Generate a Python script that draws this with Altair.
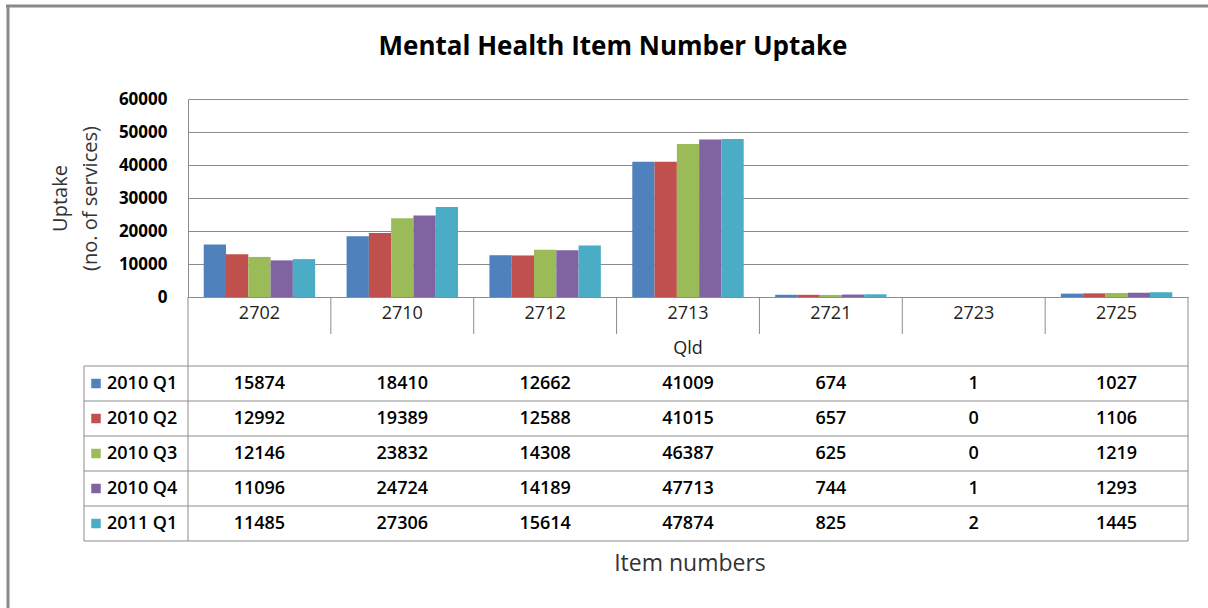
import altair as alt
import pandas as pd

# Quarterly service counts per MBS mental health item (Queensland)
items = ["2702", "2710", "2712", "2713", "2721", "2723", "2725"]
series = ["2010 Q1", "2010 Q2", "2010 Q3", "2010 Q4", "2011 Q1"]
q1_2010 = [15874, 18410, 12662, 41009, 674, 1, 1027]
q2_2010 = [12992, 19389, 12588, 41015, 657, 0, 1106]
q3_2010 = [12146, 23832, 14308, 46387, 625, 0, 1219]
q4_2010 = [11096, 24724, 14189, 47713, 744, 1, 1293]
q1_2011 = [11485, 27306, 15614, 47874, 825, 2, 1445]
y_ticks = [0, 10000, 20000, 30000, 40000, 50000, 60000]
colors = ["#4F81BD", "#C0504D", "#9BBB59", "#8064A2", "#4BACC6"]

series_values = [q1_2010, q2_2010, q3_2010, q4_2010, q1_2011]
df = pd.DataFrame(
    [
        {"item": it, "series": s, "uptake": v}
        for s, vals in zip(series, series_values)
        for it, v in zip(items, vals)
    ]
)

# Layout (pixels, relative to the plot area's top-left corner)
W = 1000
PLOT_H = 198
CAT_SEP_END = 235
ROWS_TOP = 267
ROW_H = 35
H = ROWS_TOP + ROW_H * len(series)
LEGEND_LEFT = -104
GRID = "#8c8c8c"
FONT = "Open Sans"

x_band = alt.X(
    "item:N",
    sort=items,
    scale=alt.Scale(domain=items, paddingInner=0.22, paddingOuter=0.11),
    axis=None,
)
row_band = alt.Y(
    "series:N",
    sort=series,
    scale=alt.Scale(domain=series, range=[ROWS_TOP, H], paddingInner=0, paddingOuter=0),
    axis=None,
)
color_enc = alt.Color("series:N", scale=alt.Scale(domain=series, range=colors), legend=None)

bars = alt.Chart(df).mark_bar().encode(
    x=x_band,
    xOffset=alt.XOffset(
        "series:N", sort=series, scale=alt.Scale(domain=series, paddingInner=0, paddingOuter=0)
    ),
    y=alt.Y(
        "uptake:Q",
        scale=alt.Scale(domain=[0, 60000], range=[PLOT_H, 0], nice=False),
        axis=alt.Axis(
            values=y_ticks,
            format="d",
            title=["Uptake", "(no. of services)"],
            titleAngle=-90,
            titleX=-138,
            titleY=PLOT_H / 2,
            titleAlign="center",
            titleBaseline="top",
            titleFontSize=20,
            titleFontWeight="normal",
            titleLineHeight=30,
            titleColor="#333333",
            labelFontSize=17,
            labelFontWeight="bold",
            labelColor="#000000",
            labelPadding=21,
            ticks=False,
            domain=True,
            domainColor=GRID,
            grid=True,
            gridColor=GRID,
        ),
    ),
    color=color_enc,
)

# Table grid lines
step = W / len(items)
lines = []
for i in range(len(series) + 1):
    y = ROWS_TOP + ROW_H * i
    lines.append({"x": LEGEND_LEFT, "x2": W, "y": y, "y2": y})
lines.append({"x": 0, "x2": 0, "y": PLOT_H, "y2": H})
lines.append({"x": W, "x2": W, "y": PLOT_H, "y2": H})
lines.append({"x": LEGEND_LEFT, "x2": LEGEND_LEFT, "y": ROWS_TOP, "y2": H})
for k in range(1, len(items)):
    lines.append({"x": step * k, "x2": step * k, "y": PLOT_H, "y2": CAT_SEP_END})
table_lines = alt.Chart(pd.DataFrame(lines)).mark_rule(color=GRID, strokeWidth=1).encode(
    x=alt.X("x:Q", scale=None),
    x2="x2:Q",
    y=alt.Y("y:Q", scale=None),
    y2="y2:Q",
)

# Outer frame (left and top edges)
frame = pd.DataFrame(
    [
        {"x": -180, "x2": -180, "y": -93, "y2": 520},
        {"x": -182, "x2": 1030, "y": -93, "y2": -93},
    ]
)
frame_lines = alt.Chart(frame).mark_rule(color="#8a8a8a", strokeWidth=3).encode(
    x=alt.X("x:Q", scale=None),
    x2="x2:Q",
    y=alt.Y("y:Q", scale=None),
    y2="y2:Q",
)

cat_labels = alt.Chart(pd.DataFrame({"item": items})).mark_text(
    fontSize=18, color="#222222", baseline="middle"
).encode(x=x_band, y=alt.value(215), text="item:N")

region_label = alt.Chart(pd.DataFrame({"t": ["Qld"]})).mark_text(
    fontSize=18, color="#222222", baseline="middle"
).encode(x=alt.value(W / 2), y=alt.value(250), text="t:N")

cell_text = alt.Chart(df).mark_text(
    fontSize=18, fontWeight=600, color="#000000", baseline="middle"
).encode(x=x_band, y=row_band, text="uptake:Q")

legend_keys = alt.Chart(pd.DataFrame({"series": series})).mark_square(
    size=90, opacity=1
).encode(x=alt.value(LEGEND_LEFT + 12), y=row_band, color=color_enc)

legend_text = alt.Chart(pd.DataFrame({"series": series})).mark_text(
    fontSize=18, fontWeight=600, color="#000000", align="left", baseline="middle"
).encode(x=alt.value(LEGEND_LEFT + 23), y=row_band, text="series:N")

chart_title = alt.Chart(pd.DataFrame({"t": ["Mental Health Item Number Uptake"]})).mark_text(
    fontSize=26, fontWeight="bold", color="#000000", baseline="middle"
).encode(x=alt.value(425), y=alt.value(-52), text="t:N")

x_title = alt.Chart(pd.DataFrame({"t": ["Item numbers"]})).mark_text(
    fontSize=23, color="#333333", baseline="middle"
).encode(x=alt.value(502), y=alt.value(465), text="t:N")

chart = (
    alt.layer(
        table_lines,
        bars,
        cat_labels,
        region_label,
        cell_text,
        legend_keys,
        legend_text,
        frame_lines,
        chart_title,
        x_title,
    )
    .resolve_scale(x="independent", y="independent", color="shared")
    .properties(
        width=W,
        height=H,
        autosize=alt.AutoSizeParams(type="none"),
        padding={"left": 188, "top": 99, "right": 20, "bottom": 608 - 99 - H},
        background="white",
    )
    .configure_view(stroke=None)
    .configure_text(font=FONT)
    .configure_axis(labelFont=FONT, titleFont=FONT)
)

chart.save("out.html", embed_options={"renderer": "svg", "actions": False})
